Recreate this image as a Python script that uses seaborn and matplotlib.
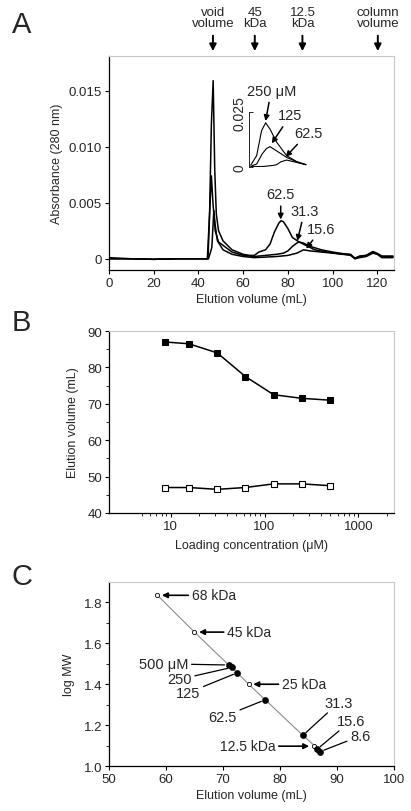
import numpy as np
import pandas as pd
import seaborn as sns
import matplotlib.pyplot as plt
from matplotlib.ticker import FixedLocator, NullFormatter, FuncFormatter

# ---- panel A: chromatograms (elution volume mL, absorbance 280 nm) ----
vol_625 = [0, 10, 20, 30, 40, 44.3, 45, 45.8, 46.6, 47.3, 48, 49, 51, 55, 60, 63, 65, 67, 70, 72,
           74, 76, 77, 78, 80, 82, 85, 88, 92, 96, 100, 104, 108, 110, 112, 115, 118, 120, 122, 127]
abs_625 = [0.0001, 0.0, -0.00005, 0.0, 0.0, 0.0, 0.004, 0.012, 0.0159, 0.008, 0.004, 0.0025, 0.0016,
           0.0008, 0.0004, 0.0003, 0.0003, 0.0006, 0.0008, 0.0013, 0.0024, 0.0032, 0.0034, 0.0033,
           0.0027, 0.0019, 0.0015, 0.0012, 0.0008, 0.00065, 0.00053, 0.0004, 0.00036, 0.00006,
           0.00024, 0.0003, 0.00065, 0.00048, 0.00024, 0.00024]

vol_313 = [0, 10, 20, 30, 40, 44, 45, 45.8, 46.5, 47.5, 49, 51, 55, 60, 65, 70, 75, 78, 80, 82, 84,
           85, 87, 90, 95, 100, 105, 108, 110, 112, 115, 118, 120, 122, 127]
abs_313 = [0.0, 0.0, -0.00005, 0.0, 0.0, 0.0, 0.004, 0.0074, 0.005, 0.0025, 0.0015, 0.0012, 0.0006,
           0.0003, 0.0002, 0.0003, 0.0004, 0.0005, 0.0007, 0.0011, 0.0014, 0.0015, 0.0014, 0.0011,
           0.0008, 0.0006, 0.00045, 0.0004, 0.0, 0.0002, 0.0003, 0.0006, 0.0004, 0.0002, 0.0002]

vol_156 = [0, 10, 20, 30, 40, 44.5, 46, 46.9, 47.5, 48.5, 51, 55, 60, 65, 70, 75, 80, 84, 87, 90,
           95, 100, 105, 108, 110, 112, 115, 118, 120, 122, 127]
abs_156 = [0.0, 0.0, -0.00005, 0.0, 0.0, 0.0, 0.001, 0.0043, 0.003, 0.0016, 0.0008, 0.0004, 0.0002,
           0.0001, 0.00015, 0.0002, 0.0003, 0.0005, 0.0008, 0.0007, 0.0006, 0.0005, 0.0004, 0.0003,
           0.0, 0.0001, 0.0002, 0.0005, 0.0004, 0.0001, 0.0001]

# inset (high concentrations)
ins_vol_250 = [61.2, 65.3, 68.7, 71.5, 74.5, 79.1, 86, 92.9, 99.3]
ins_abs_250 = [0.001, 0.0053, 0.0167, 0.0202, 0.0174, 0.0114, 0.0053, 0.0026, 0.0012]
ins_vol_125 = [61.2, 65.3, 69, 72, 74.5, 79, 86, 93, 99.3]
ins_abs_125 = [0.0005, 0.0015, 0.006, 0.0085, 0.0094, 0.0075, 0.0045, 0.0025, 0.0012]
ins_vol_625 = [61.2, 70, 77, 79, 82, 86, 93, 99.3]
ins_abs_625 = [0.0003, 0.0004, 0.0009, 0.0012, 0.0025, 0.0033, 0.0022, 0.0012]

# ---- panel B: elution volume vs loading concentration ----
conc = [8.6, 15.6, 31.3, 62.5, 125, 250, 500]
elu_peak = [87, 86.5, 84, 77.5, 72.5, 71.5, 71]
elu_void = [47, 47, 46.5, 47, 48, 48, 47.5]

# ---- panel C: calibration ----
std_vol = [58.5, 65.0, 74.5, 86.0]
std_logmw = [1.835, 1.655, 1.400, 1.100]
smp_vol = [71.0, 71.5, 72.5, 77.4, 84.0, 86.5, 87.0]
smp_logmw = [1.494, 1.482, 1.456, 1.324, 1.150, 1.082, 1.070]

sns.set_style("ticks")
plt.rcParams['font.family'] = ['Liberation Sans', 'DejaVu Sans']
plt.rcParams['font.size'] = 9
plt.rcParams['xtick.labelsize'] = 9.5
plt.rcParams['ytick.labelsize'] = 9.5
plt.rcParams['axes.labelsize'] = 9


def frame(ax):
    for s in ['top', 'right']:
        ax.spines[s].set_color('#c8c8c8')
        ax.spines[s].set_linewidth(0.8)
    for s in ['left', 'bottom']:
        ax.spines[s].set_color('black')
        ax.spines[s].set_linewidth(0.9)
    ax.tick_params(direction='out', length=3, width=0.8, color='black', pad=2)
    ax.tick_params(which='minor', direction='out', length=2, width=0.7)


fig = plt.figure(figsize=(4.11, 8.12), dpi=100)

# ================= A =================
axA = fig.add_axes([0.265, 0.6663, 0.694, 0.2635])
for v, a in [(vol_625, abs_625), (vol_313, abs_313), (vol_156, abs_156)]:
    sns.lineplot(x=v, y=a, ax=axA, color='black', lw=1.1, sort=False)
axA.set_xlim(0, 127.5)
axA.set_ylim(-0.001, 0.0181)
axA.set_xticks(range(0, 121, 20))
axA.set_yticks([0, 0.005, 0.010, 0.015])
axA.yaxis.set_major_formatter(FuncFormatter(lambda v, p: '0' if abs(v) < 1e-9 else f'{v:.3f}'))
axA.set_xlabel('Elution volume (mL)', labelpad=3)
axA.set_ylabel('Absorbance (280 nm)', labelpad=4)
frame(axA)

arr = dict(arrowstyle='-|>', color='black', lw=1.1, mutation_scale=8, shrinkA=1, shrinkB=0)
for txt, xt, yt, xp, yp in [('62.5', 76.8, 0.00574, 76.8, 0.0035),
                            ('31.3', 87.5, 0.00429, 84.2, 0.0016),
                            ('15.6', 95.0, 0.00268, 88.2, 0.0009),
                            ('250 \u03bcM', 72.6, 0.0150, 70.0, 0.0123),
                            ('125', 81.1, 0.0128, 72.8, 0.0103),
                            ('62.5', 89.0, 0.01122, 79.0, 0.0091)]:
    axA.annotate(txt, xy=(xp, yp), xytext=(xt, yt), ha='center', va='center',
                 fontsize=10.5, arrowprops=arr)

trA = axA.get_xaxis_transform()
for txt, xv in [('void\nvolume', 46.5), ('45\nkDa', 65.2), ('12.5\nkDa', 86.5), ('column\nvolume', 120.2)]:
    axA.annotate('', xy=(xv, 1.023), xytext=(xv, 1.095), xycoords=trA, textcoords=trA,
                 arrowprops=dict(arrowstyle='-|>', color='black', lw=1.4, mutation_scale=10,
                                 shrinkA=0, shrinkB=0))
    axA.text(xv, 1.18, txt, transform=trA, ha='center', va='center', fontsize=9.5,
             linespacing=0.95)

# inset
axI = fig.add_axes([0.6058, 0.7927, 0.141, 0.0678])
axI.patch.set_visible(False)
for v, a in [(ins_vol_250, ins_abs_250), (ins_vol_125, ins_abs_125), (ins_vol_625, ins_abs_625)]:
    sns.lineplot(x=v, y=a, ax=axI, color='black', lw=0.8, sort=False)
axI.set_xlim(60, 100)
axI.set_ylim(0, 0.025)
for s in ['top', 'right', 'bottom']:
    axI.spines[s].set_visible(False)
axI.spines['left'].set_linewidth(0.7)
axI.set_xticks([])
axI.set_yticks([0, 0.025])
axI.set_yticklabels(['0', '0.025'], rotation=90, va='center', fontsize=10)
axI.tick_params(axis='y', direction='in', length=3, width=0.7, pad=2)

# ================= B =================
axB = fig.add_axes([0.265, 0.367, 0.694, 0.2241])
sns.lineplot(x=conc, y=elu_peak, ax=axB, color='black', lw=1.1, marker='s', markersize=4.2,
             markerfacecolor='black', markeredgecolor='black')
sns.lineplot(x=conc, y=elu_void, ax=axB, color='black', lw=1.1, marker='s', markersize=4,
             markerfacecolor='white', markeredgecolor='black', markeredgewidth=0.8)
axB.set_xscale('log')
axB.set_xlim(2.2, 2400)
axB.set_ylim(40, 90)
axB.xaxis.set_major_locator(FixedLocator([10, 100, 1000]))
axB.set_xticklabels(['10', '100', '1000'])
minors = [5, 6, 7, 8, 9] + list(range(20, 100, 10)) + list(range(200, 1000, 100)) + [2000]
axB.xaxis.set_minor_locator(FixedLocator(minors))
axB.xaxis.set_minor_formatter(NullFormatter())
axB.set_yticks(range(40, 91, 10))
axB.yaxis.set_minor_locator(FixedLocator(range(45, 90, 10)))
axB.set_xlabel('Loading concentration (\u03bcM)', labelpad=5)
axB.set_ylabel('Elution volume (mL)', labelpad=6)
frame(axB)

# ================= C =================
axC = fig.add_axes([0.265, 0.0554, 0.694, 0.2266])
sns.lineplot(x=std_vol + smp_vol, y=std_logmw + smp_logmw, ax=axC, color='#8c8c8c', lw=0.8)
sns.scatterplot(x=std_vol, y=std_logmw, ax=axC, marker='o', s=9, facecolor='white',
                edgecolor='black', linewidth=0.6, zorder=3)
sns.scatterplot(x=smp_vol, y=smp_logmw, ax=axC, marker='o', s=20, color='black',
                edgecolor='black', zorder=4)
axC.set_xlim(50, 100)
axC.set_ylim(1.0, 1.9)
axC.set_xticks(range(50, 101, 10))
axC.set_yticks([1.0, 1.2, 1.4, 1.6, 1.8])
axC.yaxis.set_major_formatter(FuncFormatter(lambda v, p: f'{v:.1f}'))
axC.yaxis.set_minor_locator(FixedLocator([1.1, 1.3, 1.5, 1.7]))
axC.set_xlabel('Elution volume (mL)', labelpad=3)
axC.set_ylabel('log MW', labelpad=6)
frame(axC)

arrC = dict(arrowstyle='-|>', color='black', lw=1.2, mutation_scale=8, shrinkA=0, shrinkB=0)
for txt, xt, yt, xp, yp, ha in [('68 kDa', 64.5, 1.835, 59.3, 1.835, 'left'),
                                ('45 kDa', 70.7, 1.655, 65.8, 1.655, 'left'),
                                ('25 kDa', 80.3, 1.400, 75.3, 1.400, 'left'),
                                ('12.5 kDa', 79.2, 1.097, 85.1, 1.097, 'right')]:
    axC.annotate(txt, xy=(xp, yp), xytext=(xt, yt), ha=ha, va='center', fontsize=10,
                 arrowprops=arrC)

lineC = dict(arrowstyle='-', color='black', lw=0.9, shrinkA=0, shrinkB=3)
for txt, xt, yt, xp, yp, ha in [('500 \u03bcM', 63.9, 1.500, 71.0, 1.494, 'right'),
                                ('250', 64.5, 1.424, 71.5, 1.482, 'right'),
                                ('125', 66.0, 1.358, 72.5, 1.456, 'right'),
                                ('62.5', 72.4, 1.240, 77.4, 1.324, 'right'),
                                ('31.3', 87.8, 1.310, 84.0, 1.150, 'left'),
                                ('15.6', 90.0, 1.222, 86.5, 1.082, 'left'),
                                ('8.6', 92.3, 1.147, 87.0, 1.070, 'left')]:
    axC.annotate(txt, xy=(xp, yp), xytext=(xt, yt), ha=ha, va='center', fontsize=10.5,
                 arrowprops=lineC)

fig.text(0.053, 0.969, 'A', fontsize=21, ha='center', va='center')
fig.text(0.053, 0.602, 'B', fontsize=21, ha='center', va='center')
fig.text(0.053, 0.289, 'C', fontsize=21, ha='center', va='center')

fig.savefig('out.png', dpi=100)
